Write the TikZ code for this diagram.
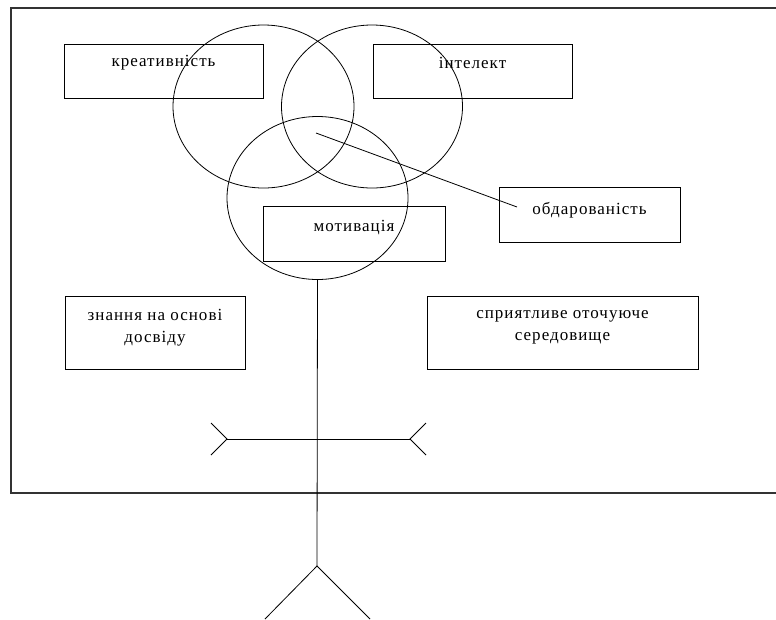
\documentclass[tikz,border=0pt]{standalone}
\usepackage{fontspec}
\setmainfont{Liberation Serif}[LetterSpace=6]
\usetikzlibrary{shapes.geometric}
\begin{document}
\begin{tikzpicture}[x=1pt,y=-1pt,
  frameline/.style={line width=1.6pt, black!80},
  thinline/.style={line width=0.8pt, black},
  box/.style={draw, line width=0.9pt, inner sep=0pt},
  ring/.style={draw, ellipse, line width=0.8pt, minimum width=181pt, minimum height=163pt, inner sep=0pt},
  lbl/.style={font=\fontsize{17}{22}\selectfont, align=center, inner sep=0pt}]
\useasboundingbox (0,0) rectangle (776,619);
% outer frame
\draw[frameline] (790,8) -- (11,8) -- (11,493) -- (790,493);
% boxes
\node[box, minimum width=199pt, minimum height=54pt, label={[lbl,yshift=8pt]center:креативність}] (kreat) at (163.5,71) {};
\node[box, minimum width=199pt, minimum height=54pt, label={[lbl,yshift=8pt]center:інтелект}] (intel) at (472.5,71) {};
\node[box, minimum width=182pt, minimum height=55pt, label={[lbl,yshift=6pt]center:мотивація}] (motiv) at (354,233.5) {};
\node[box, minimum width=181pt, minimum height=55pt, label={[lbl,yshift=5pt]center:обдарованість}] (obdar) at (589.5,215) {};
\node[box, minimum width=180pt, minimum height=73pt, label={[lbl,yshift=5pt]center:знання на основі\\досвіду}] (znan) at (155,332.5) {};
\node[box, minimum width=271pt, minimum height=73pt, label={[lbl,yshift=5pt]center:сприятливе оточуюче\\середовище}] (spry) at (562.5,332.5) {};
% circles
\node[ring] (c1) at (263.5,106.5) {};
\node[ring] (c2) at (372,106.5) {};
\node[ring] (c3) at (317.5,198) {};
% pointer line
\coordinate (pstart) at (316,133);
\coordinate (pend) at (517,207);
\draw[thinline] (pstart) -- (pend);
% stick figure
\coordinate (hip) at (317,566);
\coordinate (handL) at (227,439);
\coordinate (handR) at (410,439);
\coordinate (footL) at (265,619);
\coordinate (footR) at (370,619);
\draw[thinline] (c3.south) -- (hip);
\draw[thinline] (handL) -- (handR);
\draw[thinline] (211,423) -- (handL) -- (211,455);
\draw[thinline] (426,423) -- (handR) -- (426,455);
\draw[thinline] (footL) -- (hip) -- (footR);
\end{tikzpicture}
\end{document}
